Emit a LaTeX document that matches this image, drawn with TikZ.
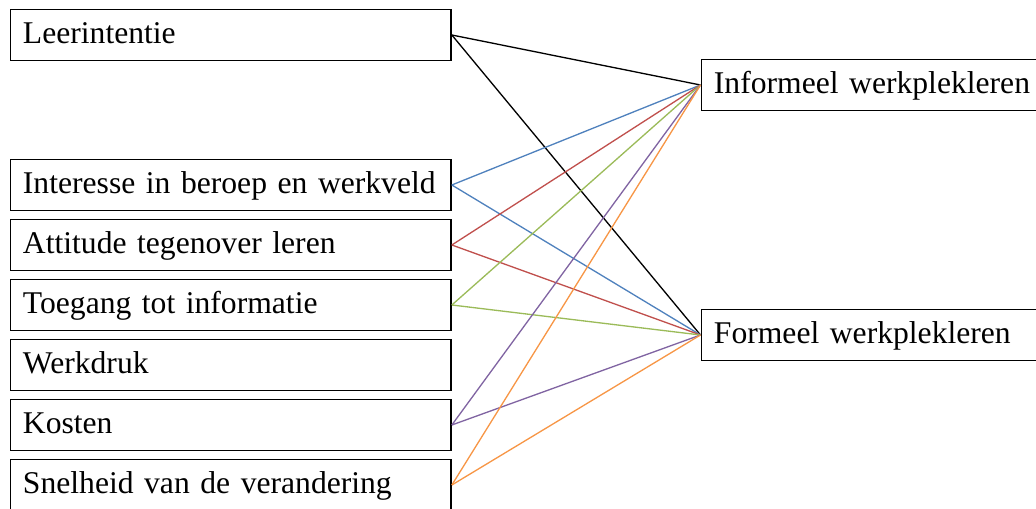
\documentclass[tikz,border=0pt]{standalone}
\usepackage{fontspec}
\setmainfont{Liberation Serif}
\newcommand\vakletter{\fontsize{18}{18}\selectfont\spaceskip=0.2em plus 0.1em\relax}

\begin{document}
\begin{tikzpicture}[x=0.02cm,y=-0.02cm]
  % Kader (zelfde verhouding als de figuur)
  \useasboundingbox (0,0) rectangle (1036,509);

  % Kleuren voor de verbindingen
  \definecolor{lijnBlauw}{HTML}{4F81BD}
  \definecolor{lijnRood}{HTML}{C0504D}
  \definecolor{lijnGroen}{HTML}{9BBB59}
  \definecolor{lijnPaars}{HTML}{8064A2}
  \definecolor{lijnOranje}{HTML}{F79646}

  % Stijlen
  \tikzset{
    vak/.style={draw, line width=1.1pt, anchor=west, align=left,
      minimum height=1.02cm, inner xsep=0.25cm,
      text height=1.1em, text depth=0.1em, font=\vakletter},
    factor/.style={vak, text width=8.31cm},
    uitkomst/.style={vak, text width=7cm},
    verband/.style={line width=0.75pt}
  }

  % Factoren links
  \foreach \naam/\tekst/\y in {leer/Leerintentie/35,
      inter/Interesse in beroep en werkveld/185,
      att/Attitude tegenover leren/245,
      toeg/Toegang tot informatie/305,
      druk/Werkdruk/365,
      kost/Kosten/425,
      snel/Snelheid van de verandering/485}
  {
    \node[factor] (\naam) at (9.5,\y) {\tekst};
  }

  % Vormen van werkplekleren rechts
  \node[uitkomst] (inf) at (700.5,85) {Informeel werkplekleren};
  \node[uitkomst] (form) at (700.5,335) {Formeel werkplekleren};

  % Verbindingen (Werkdruk heeft er geen)
  \foreach \bron/\kleur in {leer/black, inter/lijnBlauw, att/lijnRood,
      toeg/lijnGroen, kost/lijnPaars, snel/lijnOranje}
  {
    \draw[verband, \kleur] (\bron.east) -- (inf.west);
    \draw[verband, \kleur] (\bron.east) -- (form.west);
  }
\end{tikzpicture}
\end{document}
